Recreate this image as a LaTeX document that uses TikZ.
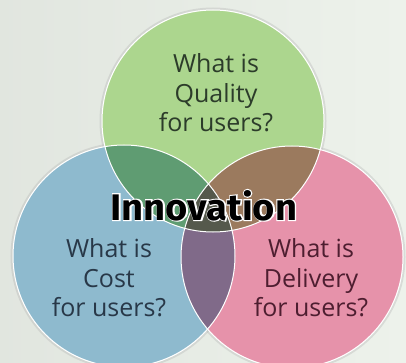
\documentclass[tikz,border=0pt]{standalone}
\usepackage{fontspec}
\setmainfont{Open Sans}
\newfontfamily\headfont{Fira Sans}[BoldFeatures={FakeBold=0}]
\newfontfamily\halofont{Fira Sans}[BoldFeatures={FakeBold=6}]

\definecolor{bgcol}{RGB}{237,242,235}
\definecolor{qualcol}{RGB}{172,214,142}
\definecolor{costcol}{RGB}{142,186,206}
\definecolor{delcol}{RGB}{230,146,170}

\begin{document}
\begin{tikzpicture}[x=1pt, y=-1pt,
  venn/.style={circle, minimum size=222pt, inner sep=0pt},
  ask/.style={align=center, font=\fontsize{25}{29.5}\selectfont},
  title/.style={anchor=base, xscale=1.03, font=\fontsize{37}{40}\selectfont}]
\shade[left color=bgcol!95!black, right color=bgcol] (0,0) rectangle (406,363);
\useasboundingbox (0,0) rectangle (406,363);

% soft shade round each circle
\foreach \p in {(213,121),(124,256),(292,257)}
  \draw[black!30, line width=2pt, opacity=0.35] \p circle (112.5pt);

% the three circles, overlaps by multiplying the fills
\begin{scope}[blend group=multiply]
\node[venn, fill=qualcol] (quality) at (213,121) {};
\node[venn, fill=costcol] (cost) at (124,256) {};
\node[venn, fill=delcol] (delivery) at (292,257) {};
\end{scope}
\foreach \c in {quality,cost,delivery}
  \draw[white, line width=1pt] (\c.center) circle (111pt);

\node[ask, text={rgb,255:red,44;green,60;blue,42}] (qualtext) at (216,93)
  {What is\\Quality\\for users?};
\node[ask, text={rgb,255:red,40;green,56;blue,72}] (costtext) at (109,278)
  {What is\\Cost\\for users?};
\node[ask, text={rgb,255:red,78;green,30;blue,48}] (deltext) at (311,278)
  {What is\\Delivery\\for users?};

% white rim under the heading
\node[title, text=white] (innovrim) at (204,220) {\halofont\bfseries Innovation};
\node[title, text=black] (innov) at (204,220) {\headfont\bfseries Innovation};
\end{tikzpicture}
\end{document}
